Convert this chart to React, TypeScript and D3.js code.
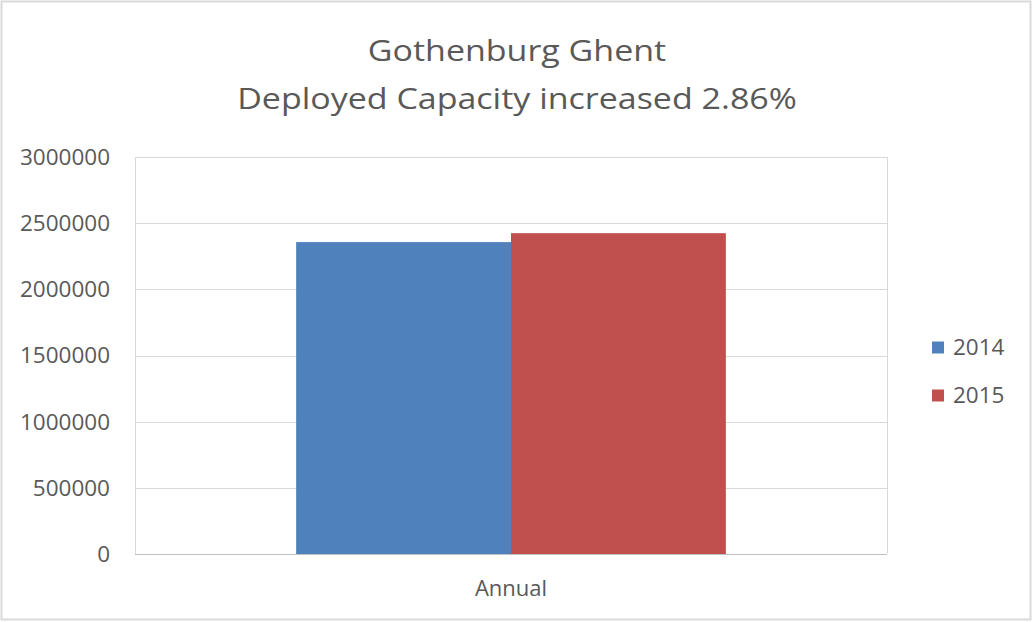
import React from "react";
import * as d3 from "d3";

const categories = ["Annual"];
const seriesNames = ["2014", "2015"];
const values2014 = [2357000];
const values2015 = [2424400];
const yTicks = [0, 500000, 1000000, 1500000, 2000000, 2500000, 3000000];
const titleLines = ["Gothenburg Ghent", "Deployed Capacity increased 2.86%"];
const colors = ["#4F81BD", "#C0504D"];

const W = 1033;
const H = 622;
const plot = { left: 135, right: 887, top: 157, bottom: 554 };
const font = "'Open Sans', 'Liberation Sans', sans-serif";
const textColor = "#595959";

export default function App() {
  const y = d3.scaleLinear().domain([0, 3000000]).range([plot.bottom, plot.top]);
  const x0 = d3
    .scaleBand<string>()
    .domain(categories)
    .range([plot.left, plot.right])
    .paddingInner(0)
    .paddingOuter(0.375);
  const x1 = d3.scaleBand<string>().domain(seriesNames).range([0, x0.bandwidth()]);
  const series = [values2014, values2015];

  return (
    <svg
      width={W}
      height={H}
      style={{ position: "absolute", left: 0, top: 0, background: "#fff" }}
      fontFamily={font}
    >
      <rect x={0} y={0} width={W} height={H} fill="#fff" />
      <rect x={1.5} y={1.5} width={1029} height={618} fill="none" stroke="#d9d9d9" strokeWidth={2} />
      {titleLines.map((t, i) => (
        <text
          key={i}
          transform={`translate(517, ${61 + i * 47.5}) scale(1.16, 1)`}
          textAnchor="middle"
          fontSize={29.3}
          fill={textColor}
        >
          {t}
        </text>
      ))}
      {yTicks.map((t) => (
        <line
          key={t}
          x1={plot.left}
          x2={plot.right}
          y1={Math.round(y(t)) + 0.5}
          y2={Math.round(y(t)) + 0.5}
          stroke="#d9d9d9"
          strokeWidth={1}
        />
      ))}
      <line x1={plot.left + 0.5} x2={plot.left + 0.5} y1={plot.top} y2={plot.bottom} stroke="#d9d9d9" />
      <line x1={plot.right + 0.5} x2={plot.right + 0.5} y1={plot.top} y2={plot.bottom} stroke="#d9d9d9" />
      {categories.map((c, ci) =>
        series.map((s, si) => (
          <rect
            key={c + si}
            x={(x0(c) ?? 0) + (x1(seriesNames[si]) ?? 0)}
            y={y(s[ci])}
            width={x1.bandwidth()}
            height={plot.bottom - y(s[ci])}
            fill={colors[si]}
          />
        ))
      )}
      <line
        x1={plot.left}
        x2={plot.right}
        y1={plot.bottom + 0.5}
        y2={plot.bottom + 0.5}
        stroke="#bfbfbf"
      />
      {yTicks.map((t) => (
        <text
          key={t}
          x={110}
          y={y(t)}
          dy="0.35em"
          textAnchor="end"
          fontSize={22.5}
          fill={textColor}
        >
          {String(t)}
        </text>
      ))}
      {categories.map((c) => (
        <text
          key={c}
          x={(x0(c) ?? 0) + x0.bandwidth() / 2}
          y={596}
          textAnchor="middle"
          fontSize={22}
          fill={textColor}
        >
          {c}
        </text>
      ))}
      {seriesNames.map((n, i) => (
        <g key={n} transform={`translate(932, ${347 + i * 48})`}>
          <rect x={0} y={-5.5} width={12} height={12} fill={colors[i]} />
          <text x={21} y={0} dy="0.35em" fontSize={22.5} fill={textColor}>
            {n}
          </text>
        </g>
      ))}
    </svg>
  );
}
